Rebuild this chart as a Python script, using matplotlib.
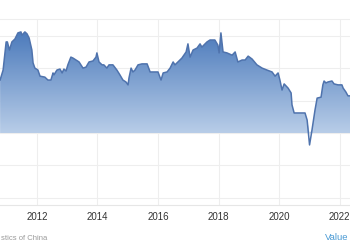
import matplotlib
matplotlib.use("Agg")
import matplotlib.pyplot as plt
import numpy as np
from matplotlib.colors import LinearSegmentedColormap

# values (decimal year, index value)
years = [2010.78, 2010.88, 2010.98, 2011.02, 2011.09, 2011.17, 2011.27, 2011.37, 2011.47, 2011.50,
         2011.60, 2011.67, 2011.74, 2011.83, 2011.87, 2011.93, 2012.03, 2012.10, 2012.26, 2012.36,
         2012.46, 2012.53, 2012.56, 2012.66, 2012.76, 2012.83, 2012.89, 2012.96, 2013.02, 2013.12,
         2013.19, 2013.29, 2013.39, 2013.52, 2013.62, 2013.72, 2013.85, 2013.95, 2013.98, 2014.05,
         2014.15, 2014.21, 2014.31, 2014.38, 2014.51, 2014.64, 2014.74, 2014.84, 2014.94, 2015.01,
         2015.04, 2015.11, 2015.17, 2015.24, 2015.34, 2015.47, 2015.64, 2015.74, 2016.00, 2016.10,
         2016.17, 2016.30, 2016.40, 2016.50, 2016.56, 2016.66, 2016.79, 2016.93, 2016.99, 2017.06,
         2017.16, 2017.29, 2017.39, 2017.45, 2017.62, 2017.72, 2017.88, 2017.98, 2018.02, 2018.08,
         2018.15, 2018.28, 2018.45, 2018.55, 2018.64, 2018.78, 2018.88, 2018.98, 2019.11, 2019.27,
         2019.44, 2019.60, 2019.77, 2019.87, 2019.97, 2020.03, 2020.10, 2020.17, 2020.30, 2020.40,
         2020.43, 2020.50, 2020.86, 2020.93, 2021.01, 2021.09, 2021.19, 2021.26, 2021.39, 2021.45,
         2021.49, 2021.55, 2021.62, 2021.75, 2021.82, 2021.95, 2022.08, 2022.12, 2022.21, 2022.28,
         2022.38]
values = [116.4, 119.5, 128.2, 128.2, 125.7, 128.2, 129.1, 131.0, 131.3, 130.3,
          131.3, 130.7, 129.4, 125.7, 121.7, 120.1, 119.5, 117.6, 117.3, 116.4,
          116.4, 118.6, 118.0, 119.5, 119.8, 118.6, 119.8, 119.2, 121.1, 123.5,
          123.2, 122.6, 122.0, 120.1, 120.4, 122.0, 122.3, 123.5, 124.8, 122.0,
          121.1, 121.1, 120.1, 121.1, 121.1, 119.5, 118.0, 116.4, 115.8, 114.9,
          117.0, 120.1, 118.9, 119.5, 121.1, 121.4, 121.4, 118.9, 118.9, 116.4,
          118.6, 118.9, 120.1, 122.0, 121.1, 122.0, 123.2, 125.1, 127.6, 123.5,
          125.7, 126.3, 127.6, 126.6, 128.2, 128.8, 128.8, 127.2, 124.8, 131.0,
          125.1, 124.8, 124.1, 125.1, 122.0, 122.6, 122.6, 123.8, 122.9, 121.1,
          120.1, 119.5, 118.9, 117.6, 118.6, 116.4, 113.3, 115.2, 113.9, 112.4,
          108.7, 106.2, 106.2, 104.0, 96.3, 100.9, 107.1, 110.8, 111.1, 114.9,
          116.1, 115.5, 115.8, 116.1, 115.2, 114.9, 114.9, 113.9, 112.7, 111.5,
          111.5]
tick_years = [2012, 2014, 2016, 2018, 2020, 2022]
grid_values = [80, 90, 100, 110, 120, 130]
baseline = 100

x = np.array(years)
y = np.array(values)

fig = plt.figure(figsize=(3.5, 2.5), dpi=100)
ax = fig.add_axes([0, 0.18, 1, 0.744])

# light grid
for g in grid_values:
    ax.axhline(g, color="#eeeeee", lw=0.8, zorder=0)
for t in tick_years:
    ax.axvline(t, color="#eeeeee", lw=0.8, zorder=0)

# gradient area above the baseline
fill = ax.fill_between(x, np.maximum(y, baseline), baseline, color="none", lw=0)
cmap = LinearSegmentedColormap.from_list("tegrad", ["#b8cde8", "#4676b9"])
grad = np.linspace(0, 1, 256).reshape(-1, 1)
img = ax.imshow(grad, cmap=cmap, aspect="auto", origin="lower",
                extent=[2010.5, 2022.6, baseline, 133], zorder=1)
img.set_clip_path(fill.get_paths()[0], transform=ax.transData)
ax.set_xlim(2010.777, 2022.347)
ax.set_ylim(77.7, 135.3)

ax.plot(x, y, color="#4f73ad", lw=1.1, zorder=2)

ax.set_xticks(tick_years)
ax.set_xticklabels([str(t) for t in tick_years], fontsize=7, color="#333333",
                   family="Liberation Sans")
ax.tick_params(axis="x", length=0, pad=5)
ax.set_yticks([])
for side in ["left", "right"]:
    ax.spines[side].set_visible(False)
ax.spines["top"].set_color("#eeeeee")
ax.spines["bottom"].set_color("#e6e6e6")
ax.spines["top"].set_linewidth(0.8)
ax.spines["bottom"].set_linewidth(0.8)

# the source line is cut at the left edge in the reference; keep its visible part
fig.text(1 / 350, 1 - 238 / 250, "stics of China",
         ha="left", va="center", fontsize=5.5, color="#9a9a9a", family="Liberation Sans")
fig.text(348 / 350, 1 - 238 / 250, "Value", ha="right", va="center", fontsize=6.8,
         color="#4a9ad4", family="Liberation Sans")

fig.savefig("out.png", dpi=100)
